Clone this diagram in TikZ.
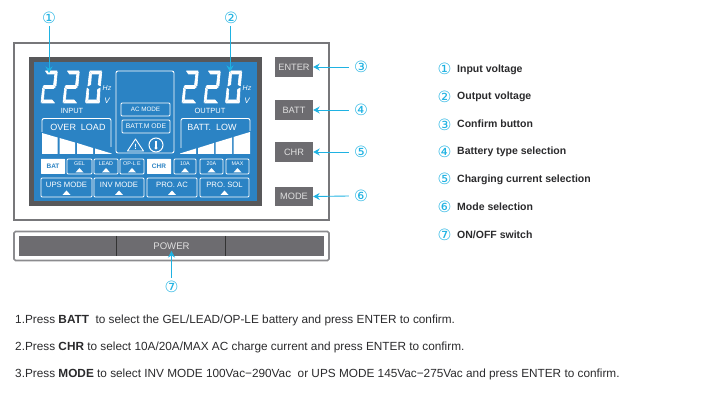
\documentclass[tikz,border=0pt]{standalone}
\usepackage{fontspec}
\usepackage{tikz}
\usetikzlibrary{arrows.meta,positioning,shapes.geometric,fit}
\setmainfont{Liberation Sans}
\newfontfamily\circfont{DejaVu Sans}
\definecolor{lcdblue}{HTML}{2B83C4}
\definecolor{framegray}{HTML}{58585A}
\definecolor{panelgray}{HTML}{77777A}
\definecolor{btngray}{HTML}{6D6C70}
\definecolor{callcyan}{HTML}{1FB2E2}
\definecolor{legendink}{HTML}{2A2A2C}
% seven segment parts, local box 16 x 32
\newcommand{\segT}{\filldraw[seg] (4.5,0) -- (16,0) -- (13.5,3) -- (6.5,3) -- cycle;}
\newcommand{\segUR}{\filldraw[seg] (16.3,0.8) -- (15,14.8) -- (12.6,13.8) -- (13.7,3.6) -- cycle;}
\newcommand{\segUL}{\filldraw[seg] (4,0.8) -- (6,3.6) -- (5.2,13.6) -- (2.4,15) -- cycle;}
\newcommand{\segM}{\filldraw[seg] (3,14.5) -- (13,14.5) -- (14.4,16) -- (12.5,17.5) -- (3.8,17.5) -- (1.9,16) -- cycle;}
\newcommand{\segLL}{\filldraw[seg] (1.6,17) -- (3.3,18.5) -- (2.6,28.6) -- (0,31.4) -- cycle;}
\newcommand{\segLR}{\filldraw[seg] (14.6,17) -- (14,31.4) -- (11.4,28.6) -- (12.1,18.5) -- cycle;}
\newcommand{\segB}{\filldraw[seg] (0.7,32) -- (13.5,32) -- (11,29) -- (3,29) -- cycle;}
\begin{document}
\begin{tikzpicture}[x=1pt, y=-1pt,
  seg/.style={fill=white, draw=white, line width=0.6pt, line join=round},
  panel/.style={rectangle, draw=panelgray, line width=2.5pt, inner sep=0pt},
  btn/.style={rectangle, fill=btngray, minimum width=38pt, minimum height=19.5pt, inner sep=0pt, text=white!88!black, font=\fontsize{9.2}{9}\selectfont},
  callnum/.style={font=\circfont\fontsize{15.5}{15}\selectfont, text=callcyan, inner sep=0pt},
  callout/.style={-{Stealth[length=6.5pt, width=7pt]}, draw=callcyan, line width=0.9pt},
  legend/.style={anchor=base west, font=\fontsize{10.5}{11}\selectfont\bfseries, text=legendink, inner sep=0pt},
  note/.style={anchor=base west, font=\fontsize{11.8}{12}\selectfont, text=legendink, inner sep=0pt},
  lcdtext/.style={text=white, inner sep=0pt},
  lcdbox/.style={rectangle, draw=white, line width=0.9pt, rounded corners=1pt, inner sep=0pt},
  lcdfill/.style={rectangle, fill=white, rounded corners=0.5pt, inner sep=0pt, text=lcdblue, font=\fontsize{6.5}{7}\selectfont\bfseries}
]
  \useasboundingbox (0,0) rectangle (704,403);

  % Main panel
  \node[panel, minimum width=315pt, minimum height=177pt] (mainpanel) at (171.5,131.5) {};
  \node[rectangle, fill=lcdblue, draw=framegray, line width=5pt, minimum width=228pt, minimum height=144pt, inner sep=0pt] (lcd) at (145.5,131.5) {};

  % Buttons
  \node[btn] (enterbtn) at (294,67) {ENTER};
  \node[btn] (battbtn) at (294,110) {BATT};
  \node[btn] (chrbtn) at (294,152) {CHR};
  \node[btn] (modebtn) at (294,196.5) {MODE};

  % Power bar
  \node[rectangle, draw=panelgray!85, line width=1.6pt, rounded corners=1.5pt, minimum width=315pt, minimum height=29pt, inner sep=0pt] (powerframe) at (171.5,246) {};
  \node[rectangle, fill=btngray, minimum width=305.5pt, minimum height=20pt, inner sep=0pt, text=white!88!black, font=\fontsize{9.6}{9}\selectfont] (powerbtn) at (171.5,246) {POWER};
  \draw[black!80, line width=1pt] (powerbtn.north west) ++(98,0) coordinate (divonetop) -- ++(0,20) coordinate (divonebot);
  \draw[black!80, line width=1pt] (powerbtn.north west) ++(207.3,0) coordinate (divtwotop) -- ++(0,20) coordinate (divtwobot);

  % Digits
  \foreach \dx in {41,63,182,204} {
    \begin{scope}[shift={(\dx,71)}]
      \segT \segUR \segM \segLL \segB
    \end{scope}
  }
  \foreach \dx in {85.5,225.5} {
    \begin{scope}[shift={(\dx,71)}]
      \segT \segUR \segUL \segLL \segLR \segB
    \end{scope}
  }
  \node[lcdtext, font=\fontsize{7.5}{8}\selectfont] (inputlbl) at (72,111) {INPUT};
  \node[lcdtext, font=\fontsize{7.5}{8}\selectfont] (outputlbl) at (210,111) {OUTPUT};
  \node[lcdtext, font=\fontsize{7}{7}\selectfont\itshape] (hzin) at (107,88.5) {Hz};
  \node[lcdtext, font=\fontsize{8}{8}\selectfont\itshape] (vin) at (107,101) {V};
  \node[lcdtext, font=\fontsize{7}{7}\selectfont\itshape] (hzout) at (247,88.5) {Hz};
  \node[lcdtext, font=\fontsize{8}{8}\selectfont\itshape] (vout) at (247,101) {V};

  % Centre box
  \node[lcdbox, rounded corners=2pt, minimum width=58pt, minimum height=82pt] (centrebox) at (145,112) {};
  \node[lcdbox, minimum width=49pt, minimum height=13pt, text=white, font=\fontsize{6.3}{6}\selectfont] (acmode) at (145.5,109.5) {AC MODE};
  \node[lcdbox, minimum width=48pt, minimum height=13pt, text=white, font=\fontsize{6.8}{6}\selectfont] (battmode) at (146,126.5) {BATT.M ODE};
  \draw[white, line width=0.9pt, line join=round] (127.5,151) -- (135.5,139) -- (143.5,151) -- cycle;
  \node[lcdtext, font=\fontsize{7.5}{7}\selectfont\bfseries] (warnmark) at (135.5,146.5) {!};
  \node[circle, draw=white, line width=1pt, minimum size=14pt, inner sep=0pt] (thermo) at (156,145) {};
  \draw[white, line width=1.2pt] (156,141) -- (156,147);
  \fill[white] (156,148) circle (1.7pt);

  % Load and battery bars
  \draw[white, line width=0.9pt, rounded corners=2pt] (42,132) -- (42,118.5) -- (111,118.5) -- (111,147);
  \node[lcdtext, font=\fontsize{9}{9}\selectfont] (overload) at (78,127) {OVER\ \ LOAD};
  \draw[white, line width=0.9pt, rounded corners=2pt] (181,148) -- (181,118.5) -- (250,118.5) -- (250,131);
  \node[lcdtext, font=\fontsize{9}{9}\selectfont] (battlow) at (212,127) {BATT.\ \ LOW};
  \fill[white] (42,133) -- (57.5,137.5) -- (57.5,154) -- (42,154) -- cycle;
  \fill[white] (59.5,138) -- (75,142.5) -- (75,154) -- (59.5,154) -- cycle;
  \fill[white] (77,143) -- (93,148) -- (93,154) -- (77,154) -- cycle;
  \fill[white] (95,148.5) -- (111.5,153.5) -- (111.5,154) -- (95,154) -- cycle;
  \fill[white] (250,132) -- (233.5,137) -- (233.5,154) -- (250,154) -- cycle;
  \fill[white] (232,137.5) -- (215.5,142.5) -- (215.5,154) -- (232,154) -- cycle;
  \fill[white] (214,143) -- (198,148) -- (198,154) -- (214,154) -- cycle;
  \fill[white] (196,148.5) -- (180,153.5) -- (180,154) -- (196,154) -- cycle;

  % Small keys
  \node[lcdfill, minimum width=24pt, minimum height=15pt] (batkey) at (53,166.5) {BAT};
  \node[lcdfill, minimum width=24pt, minimum height=15pt] (chrkey) at (159,166.5) {CHR};
  \foreach \keyname/\xc/\kw/\txt in {gel/79.5/25/GEL, lead/106/24/LEAD, ople/132/24/OP-L E, ten/185/22/10A, twenty/211.5/23/20A, max/237.5/23/MAX} {
    \node[lcdbox, minimum width=\kw pt, minimum height=15pt] (\keyname key) at (\xc,166.5) {};
    \node[lcdtext, font=\fontsize{5.4}{5}\selectfont] (\keyname txt) at (\xc,163.6) {\txt};
    \fill[white] (\xc-4,172.5) -- (\xc+4,172.5) -- (\xc,168) -- cycle;
  }

  % Mode keys
  \foreach \keyname/\xc/\kw/\txt in {ups/66.5/51/UPS MODE, inv/119/50/INV MODE, proac/172/50/PRO. AC, prosol/224.5/49/PRO. SOL} {
    \node[lcdbox, minimum width=\kw pt, minimum height=19pt] (\keyname key) at (\xc,187.5) {};
    \node[lcdtext, font=\fontsize{7.7}{8}\selectfont] (\keyname txt) at (\xc,184.5) {\txt};
    \fill[white] (\xc-4,195) -- (\xc+4,195) -- (\xc,190.5) -- cycle;
  }

  % Callouts
  \node[callnum] (numone) at (49,18) {①};
  \node[callnum] (numtwo) at (231,18) {②};
  \node[callnum] (numthree) at (361,67) {③};
  \node[callnum] (numfour) at (361,110) {④};
  \node[callnum] (numfive) at (361,152) {⑤};
  \node[callnum] (numsix) at (361,196) {⑥};
  \node[callnum] (numseven) at (171.5,287) {⑦};
  \coordinate (inputpt) at (49,73);
  \coordinate (outputpt) at (230,72);
  \coordinate (powerpt) at (171.5,251);
  \draw[callout] (numone.south) ++(0,2) -- (inputpt);
  \draw[callout] (numtwo.south) ++(-1,2) -- (outputpt);
  \draw[callout] (numthree.west) ++(-5,0) -- (enterbtn.east);
  \draw[callout] (numfour.west) ++(-5,0) -- (battbtn.east);
  \draw[callout] (numfive.west) ++(-5,0) -- (chrbtn.east);
  \draw[callout] (numsix.west) ++(-5,0) -- (modebtn.east);
  \draw[callout] (numseven.north) ++(0,-3) -- (powerpt);

  % Legend
  \foreach \lname/\ly/\lnum/\ltxt in {a/69/①/Input voltage, b/96.5/②/Output voltage, c/124.5/③/Confirm button, d/151.5/④/Battery type selection, e/179/⑤/Charging current selection, f/207/⑥/Mode selection, g/235/⑦/{ON/OFF switch}} {
    \node[callnum] (legnum\lname) at (444.5,\ly) {\lnum};
    \node[legend] (legtxt\lname) at (457,\ly+3.5) {\ltxt};
  }

  % Notes
  \node[note] (noteone) at (15,323.5) {1.Press \textbf{BATT}\ \ to select the GEL/LEAD/OP-LE battery and press ENTER to confirm.};
  \node[note] (notetwo) at (15,350.5) {2.Press \textbf{CHR} to select 10A/20A/MAX AC charge current and press ENTER to confirm.};
  \node[note] (notethree) at (15,377.5) {3.Press \textbf{MODE} to select INV MODE 100Vac−290Vac\ \ or UPS MODE 145Vac−275Vac and press ENTER to confirm.};
\end{tikzpicture}
\end{document}
